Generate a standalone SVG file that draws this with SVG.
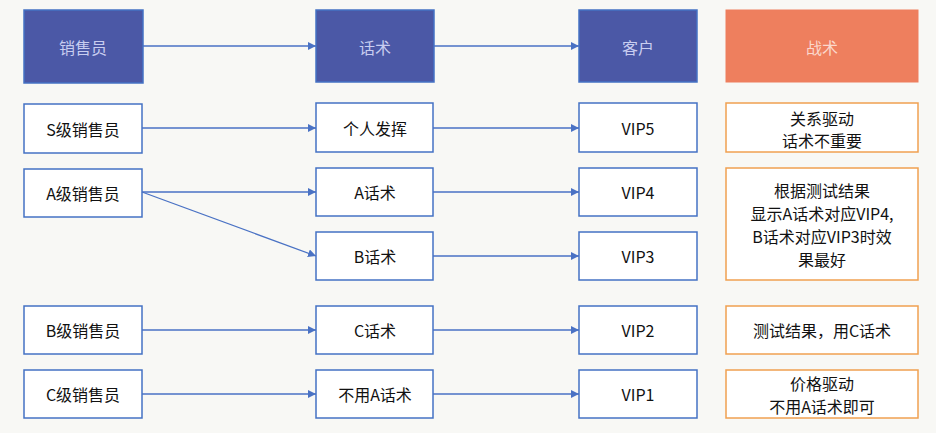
<svg xmlns="http://www.w3.org/2000/svg" width="936" height="433" viewBox="0 0 936 433">
<defs>
<style>
.h{fill:#4b58a6;stroke:#4472c4;stroke-width:1.5}
.ho{fill:#ee7f5e;stroke:#ee7f5e}
.b{fill:#fff;stroke:#4472c4;stroke-width:1.5}
.o{fill:#fff;stroke:#f0a050;stroke-width:1.5}
text{font-family:"Noto Sans CJK SC","Noto Sans",sans-serif;font-size:16px;text-anchor:middle;dominant-baseline:central;fill:#111}
.ht{fill:#c8cdf0}
.c line{stroke:#4a72c4;stroke-width:1.3;marker-end:url(#a)}
</style>
<marker id="a" viewBox="0 0 10 10" refX="10" refY="5" markerWidth="8" markerHeight="8" orient="auto" markerUnits="userSpaceOnUse"><path d="M0,0L10,5L0,10z" fill="#4a72c4"/></marker>
</defs>
<rect width="936" height="433" fill="#f8f8f5"/>
<g id="h1"><rect class="h" x="24" y="10" width="119" height="73"/><text class="ht" x="83" y="47">销售员</text></g>
<g id="h2"><rect class="h" x="316" y="10" width="118" height="72"/><text class="ht" x="375" y="47">话术</text></g>
<g id="h3"><rect class="h" x="579" y="10" width="118" height="72"/><text class="ht" x="638" y="47">客户</text></g>
<g id="h4"><rect class="ho" x="726" y="10" width="192" height="72"/><text class="ht" x="822" y="47" style="fill:#fbd8cc">战术</text></g>
<g id="s1"><rect class="b" x="24" y="104" width="118" height="49"/><text x="83" y="129">S级销售员</text></g>
<g id="s2"><rect class="b" x="24" y="169" width="118" height="48"/><text x="83" y="193">A级销售员</text></g>
<g id="s3"><rect class="b" x="24" y="306" width="118" height="48"/><text x="83" y="330">B级销售员</text></g>
<g id="s4"><rect class="b" x="24" y="370" width="118" height="48"/><text x="83" y="394">C级销售员</text></g>
<g id="t1"><rect class="b" x="316" y="103" width="117" height="49"/><text x="375" y="128">个人发挥</text></g>
<g id="t2"><rect class="b" x="316" y="168" width="117" height="48"/><text x="375" y="192">A话术</text></g>
<g id="t3"><rect class="b" x="316" y="232" width="117" height="48"/><text x="375" y="256">B话术</text></g>
<g id="t4"><rect class="b" x="316" y="306" width="117" height="48"/><text x="375" y="330">C话术</text></g>
<g id="t5"><rect class="b" x="316" y="370" width="117" height="48"/><text x="375" y="394">不用A话术</text></g>
<g id="v5"><rect class="b" x="579" y="103" width="118" height="49"/><text x="638" y="128">VIP5</text></g>
<g id="v4"><rect class="b" x="579" y="168" width="118" height="48"/><text x="638" y="192">VIP4</text></g>
<g id="v3"><rect class="b" x="579" y="232" width="118" height="48"/><text x="638" y="256">VIP3</text></g>
<g id="v2"><rect class="b" x="579" y="306" width="118" height="48"/><text x="638" y="330">VIP2</text></g>
<g id="v1"><rect class="b" x="579" y="370" width="118" height="48"/><text x="638" y="394">VIP1</text></g>
<g id="z1"><rect class="o" x="726" y="103" width="192" height="49"/><text x="822" y="118">关系驱动</text><text x="822" y="140">话术不重要</text></g>
<g id="z2"><rect class="o" x="726" y="168" width="192" height="112"/><text x="822" y="190">根据测试结果</text><text x="822" y="213">显示A话术对应VIP4,</text><text x="822" y="236">B话术对应VIP3时效</text><text x="822" y="259">果最好</text></g>
<g id="z3"><rect class="o" x="726" y="306" width="192" height="48"/><text x="822" y="330">测试结果，用C话术</text></g>
<g id="z4"><rect class="o" x="726" y="370" width="192" height="48"/><text x="822" y="383">价格驱动</text><text x="822" y="406">不用A话术即可</text></g>
<g class="c">
<line x1="143" y1="46" x2="316" y2="46"/>
<line x1="434" y1="46" x2="579" y2="46"/>
<line x1="142" y1="128" x2="316" y2="128"/>
<line x1="142" y1="192" x2="316" y2="192"/>
<line x1="142" y1="192" x2="316" y2="256"/>
<line x1="142" y1="330" x2="316" y2="330"/>
<line x1="142" y1="394" x2="316" y2="394"/>
<line x1="433" y1="128" x2="579" y2="128"/>
<line x1="433" y1="192" x2="579" y2="192"/>
<line x1="433" y1="256" x2="579" y2="256"/>
<line x1="433" y1="330" x2="579" y2="330"/>
<line x1="433" y1="394" x2="579" y2="394"/>
</g>
</svg>
